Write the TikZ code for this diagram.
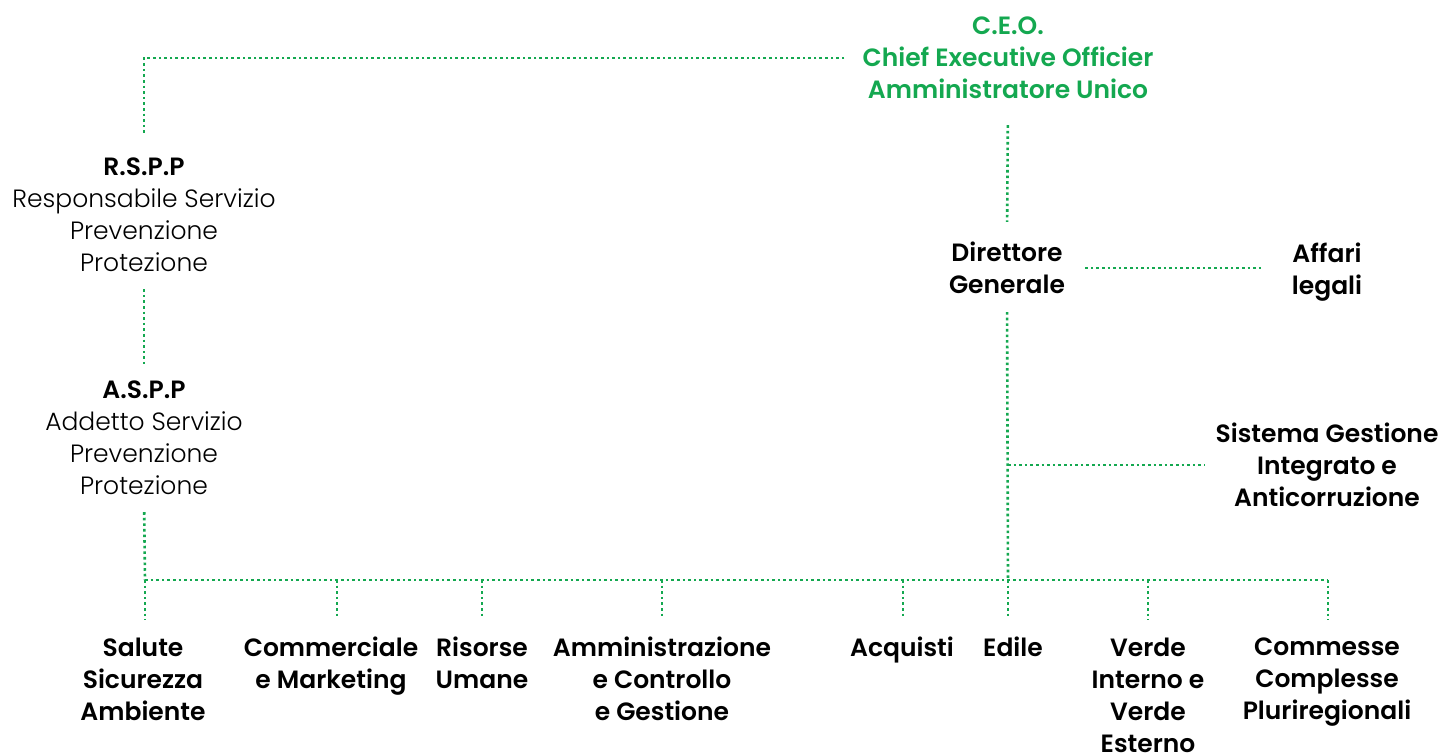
\documentclass[tikz,border=0pt]{standalone}
\usepackage{fontspec}
\setmainfont{Poppins}[BoldFont={Poppins SemiBold}]
\newfontfamily\lightfont{Poppins Light}
\definecolor{ogreen}{RGB}{20,168,80}

\begin{document}
\begin{tikzpicture}[x=1pt,y=-1pt,
	link/.style={draw=ogreen, line width=2.6pt, dash pattern=on 2.6pt off 3pt},
	unit/.style={align=center, inner sep=0pt, font=\fontsize{25}{32}\selectfont\bfseries},
	staff/.style={align=center, inner sep=0pt, font=\fontsize{25}{32}\selectfont}]
	\useasboundingbox (0,0) rectangle (1439,753);
	\node[unit, text=ogreen] (ceo) at (1008,58) {C.E.O.\\Chief Executive Officier\\Amministratore Unico};
	\node[staff] (rspp) at (144,215) {\textbf{R.S.P.P}\\{\lightfont Responsabile Servizio}\\{\lightfont Prevenzione}\\{\lightfont Protezione}};
	\node[staff] (aspp) at (144,438) {\textbf{A.S.P.P}\\{\lightfont Addetto Servizio}\\{\lightfont Prevenzione}\\{\lightfont Protezione}};
	\node[unit] (dg) at (1007,268) {Direttore\\Generale};
	\node[unit] (legal) at (1327,272) {Affari\\legali};
	\node[unit] (sgi) at (1327,465) {Sistema Gestione\\Integrato e\\Anticorruzione};
	\node[unit] (ssa) at (143,679) {Salute\\Sicurezza\\Ambiente};
	\node[unit] (com) at (331,666) {Commerciale\\e Marketing};
	\node[unit] (hr) at (482,663) {Risorse\\Umane};
	\node[unit] (acg) at (662,679) {Amministrazione\\e Controllo\\e Gestione};
	\node[unit] (acq) at (902,650) {Acquisti};
	\node[unit] (edi) at (1013,647) {Edile};
	\node[unit] (ver) at (1148,695) {Verde\\Interno e\\Verde\\Esterno};
	\node[unit] (ccp) at (1327,682) {Commesse\\Complesse\\Pluriregionali};
	\coordinate (bl) at (145,580);
	\coordinate (br) at (1328,580);
	\coordinate (mid) at (1008,580);
	\foreach \n/\x in {ssa/145,com/337,hr/482,acg/662,acq/903,edi/1008,ver/1148,ccp/1328}
		\draw[link, shorten >=18pt] (\x,580) -- (\x,580 |- \n.north);
	\draw[link, shorten <=18pt, shorten >=22pt] (ceo.west) -| (rspp.north);
	\draw[link, shorten <=17pt, shorten >=17pt] (rspp.south) -- (aspp.north);
	\draw[link, shorten <=17pt] (aspp.south) -- (bl);
	\draw[link] (bl) -- (br);
	\draw[link, shorten <=26pt, shorten >=20pt] (ceo.south) -- (dg.north);
	\draw[link, shorten <=18pt] (dg.south) -- (mid);
	\draw[link, shorten <=20pt, shorten >=28pt] (dg.east) -- (dg.east -| legal.west);
	\draw[link, shorten >=10pt] (mid |- sgi.west) -- (sgi.west);
\end{tikzpicture}
\end{document}
